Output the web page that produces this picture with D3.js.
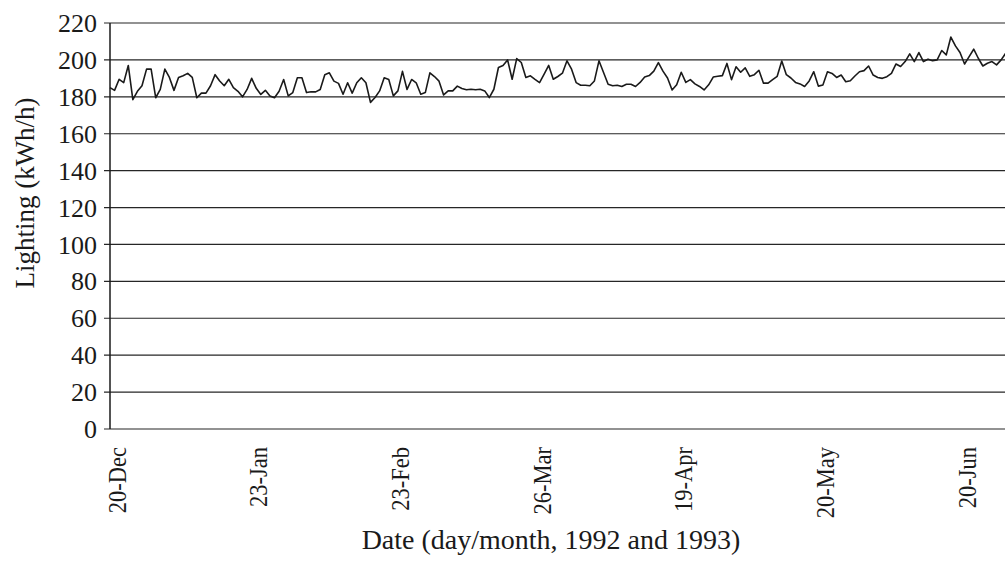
<!DOCTYPE html>
<html>
<head>
<meta charset="utf-8">
<script src="https://cdn.jsdelivr.net/npm/d3@7"></script>
<style>
  html, body { margin: 0; padding: 0; background: #fff; }
  svg { display: block; }
  text { font-family: "Liberation Serif", "Times New Roman", serif; fill: #1a1a1a; }
</style>
</head>
<body>
<svg id="chart" width="1005" height="574"></svg>
<script>
// Daily lighting load, 20 Dec 1992 onward (kWh/h)
const lighting = [
  185, 183.5, 189.5, 187.7, 197, 178.5, 183, 186, 195, 195,
  179.5, 184, 195, 190.5, 183.5, 190.5, 191.4, 192.7, 190.5, 179.5,
  182, 182, 186, 192, 188.6, 186, 189.5, 185, 183, 180,
  184, 190, 184.6, 181.3, 183.5, 180.4, 179.5, 183,
  189.4, 180.5, 182.3, 190.3, 190.3, 182.3, 182.7, 182.7, 184, 192,
  193, 188.5, 187.3, 181.4, 187.6, 182, 187.6, 190.3, 187.6, 177,
  179.6, 183.2, 190.3, 189.4, 180.5, 183.2, 193.8, 184, 189.4, 187.6,
  181.4, 182.3, 193, 191, 188.5, 181, 183.2, 183.2, 185.8,
  184.5, 183.8, 184.1, 183.8, 184.1, 183.2, 179.6, 184.1, 195.9, 197,
  200, 189.5, 200.7, 198.6, 190.5, 191.4, 189.5, 187.7, 192.3, 197,
  189.5, 191, 192.8, 199.5, 195, 187.7, 186.3, 186.3, 186, 188.6,
  199.5, 193.2, 186.8, 186, 186.3, 185.6, 186.8, 186.8,
  185.6, 187.8, 190.7, 191.5, 193.9, 198.5, 193.9, 190.2, 183.7, 186.5,
  193.3, 187.8, 189.3, 187, 185.6, 183.7, 186.5, 190.7, 191.1, 191.5,
  198.1, 189.3, 196.3, 193.3, 195.7, 191.1, 192, 194.4, 187.4, 187.4,
  189.3, 191.1, 199.4, 192, 190.2, 187.8, 187, 185.6, 188.6,
  193.6, 185.8, 186.4, 193.6, 192.7, 190.5, 191.8, 188.2, 188.7, 191.3,
  193.6, 194.2, 196.7, 191.8, 190.5, 190, 190.9, 192.7, 197.8, 196.4,
  199.1, 203.3, 199.1, 204, 199.1, 200.4, 199.6, 200, 205.1, 202.7,
  212.4, 207.6, 204, 197.8, 201.8, 205.8, 200.9, 196.7, 198.2, 199.1,
  197.3, 200, 203.6
];

// Category labels shown on the date axis and the day index they fall on
const dateLabels = ["20-Dec", "23-Jan", "23-Feb", "26-Mar", "19-Apr", "20-May", "20-Jun"];
const dateIndex  = [0, 31, 62, 93, 124, 155, 186];

// Value axis ticks
const yTicks = [0, 20, 40, 60, 80, 100, 120, 140, 160, 180, 200, 220];

const svg = d3.select("#chart");

const x = d3.scaleLinear().domain([0, 186]).range([110, 960]);
const y = d3.scaleLinear().domain([0, 220]).range([429, 23]);
const plotRight = 1012;

// horizontal gridlines (with short outside ticks)
svg.append("g")
  .selectAll("line")
  .data(yTicks)
  .join("line")
  .attr("x1", 104)
  .attr("x2", plotRight)
  .attr("y1", d => y(d))
  .attr("y2", d => y(d))
  .attr("stroke", "#262626")
  .attr("stroke-width", 1.2);

// value axis line
svg.append("line")
  .attr("x1", x(0)).attr("x2", x(0))
  .attr("y1", y(220)).attr("y2", y(0))
  .attr("stroke", "#1a1a1a")
  .attr("stroke-width", 1.5);

// value tick labels
svg.append("g")
  .selectAll("text")
  .data(yTicks)
  .join("text")
  .attr("x", 97)
  .attr("y", d => y(d))
  .attr("dy", "0.35em")
  .attr("text-anchor", "end")
  .attr("font-size", 26)
  .text(d => d);

// date tick labels, rotated (slightly condensed along the text direction)
svg.append("g")
  .selectAll("text")
  .data(dateLabels)
  .join("text")
  .attr("transform", (d, i) => `translate(${x(dateIndex[i]) + 7},447) rotate(-90) scale(0.9,1)`)
  .attr("dy", "0.35em")
  .attr("text-anchor", "end")
  .attr("font-size", 25)
  .text(d => d);

// series line
const line = d3.line()
  .x((d, i) => x(i))
  .y(d => y(d));

svg.append("path")
  .datum(lighting)
  .attr("d", line)
  .attr("fill", "none")
  .attr("stroke", "#1a1a1a")
  .attr("stroke-width", 1.6)
  .attr("stroke-linejoin", "round");

// axis titles
svg.append("text")
  .attr("transform", "translate(25,193) rotate(-90)")
  .attr("dy", "0.35em")
  .attr("text-anchor", "middle")
  .attr("font-size", 27)
  .text("Lighting (kWh/h)");

svg.append("text")
  .attr("x", 551)
  .attr("y", 549)
  .attr("text-anchor", "middle")
  .attr("font-size", 28)
  .text("Date (day/month, 1992 and 1993)");
</script>
</body>
</html>
